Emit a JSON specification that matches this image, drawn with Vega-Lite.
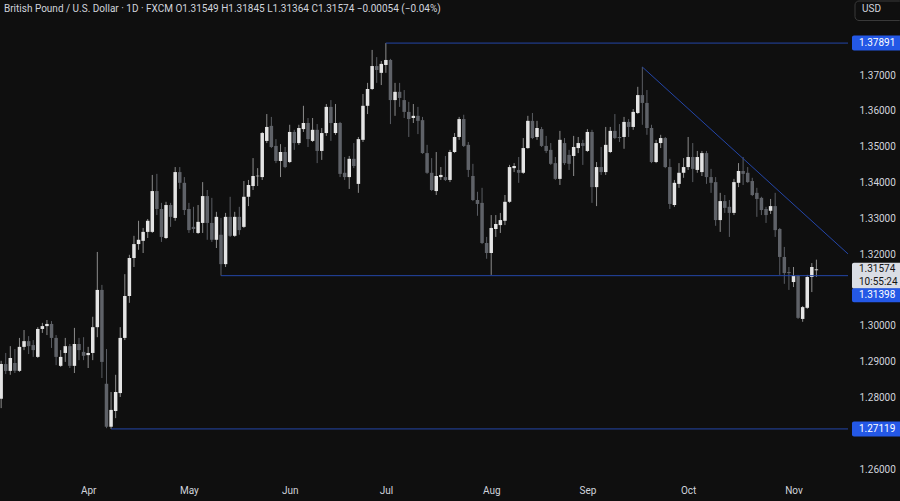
{
"$schema":"https://vega.github.io/schema/vega-lite/v6.json",
"width":848,"height":476,
"autosize":{"type":"none"},
"padding":{"left":0,"top":0,"right":52,"bottom":25},
"background":"#0f0f0f",
"config":{"view":{"stroke":null},"font":"Roboto","axis":{"labelFont":"Roboto","labelFontSize":10,"labelColor":"#d1d4dc","grid":false,"domain":false,"ticks":false,"labelOverlap":false}},
"title":{"text":"British Pound / U.S. Dollar · 1D · FXCM   O1.31549  H1.31845  L1.31364  C1.31574  −0.00054 (−0.04%)","anchor":"start","frame":"group","orient":"top","offset":-14,"dx":4,"fontSize":10,"font":"Roboto","fontWeight":"normal","color":"#d1d4dc"},
"datasets":{
"candles":[
{"d":"2025-03-05","i":-19,"o":1.2796,"h":1.2902,"l":1.2770,"c":1.2893},
{"d":"2025-03-06","i":-18,"o":1.2893,"h":1.2924,"l":1.2865,"c":1.2874},
{"d":"2025-03-07","i":-17,"o":1.2874,"h":1.2943,"l":1.2863,"c":1.2910},
{"d":"2025-03-10","i":-16,"o":1.2896,"h":1.2935,"l":1.2868,"c":1.2874},
{"d":"2025-03-11","i":-15,"o":1.2874,"h":1.2966,"l":1.2871,"c":1.2941},
{"d":"2025-03-12","i":-14,"o":1.2941,"h":1.2988,"l":1.2932,"c":1.2957},
{"d":"2025-03-13","i":-13,"o":1.2957,"h":1.2971,"l":1.2921,"c":1.2943},
{"d":"2025-03-14","i":-12,"o":1.2946,"h":1.2960,"l":1.2913,"c":1.2932},
{"d":"2025-03-17","i":-11,"o":1.2913,"h":1.2996,"l":1.2910,"c":1.2991},
{"d":"2025-03-18","i":-10,"o":1.2991,"h":1.3008,"l":1.2980,"c":1.2999},
{"d":"2025-03-19","i":-9,"o":1.2999,"h":1.3016,"l":1.2974,"c":1.3005},
{"d":"2025-03-20","i":-8,"o":1.3005,"h":1.3013,"l":1.2938,"c":1.2966},
{"d":"2025-03-21","i":-7,"o":1.2966,"h":1.2974,"l":1.2890,"c":1.2913},
{"d":"2025-03-24","i":-6,"o":1.2888,"h":1.2932,"l":1.2885,"c":1.2913},
{"d":"2025-03-25","i":-5,"o":1.2924,"h":1.2966,"l":1.2899,"c":1.2943},
{"d":"2025-03-26","i":-4,"o":1.2943,"h":1.2949,"l":1.2882,"c":1.2888},
{"d":"2025-03-27","i":-3,"o":1.2888,"h":1.2994,"l":1.2868,"c":1.2949},
{"d":"2025-03-28","i":-2,"o":1.2949,"h":1.2966,"l":1.2904,"c":1.2932},
{"d":"2025-03-31","i":-1,"o":1.2927,"h":1.2968,"l":1.2904,"c":1.2916},
{"d":"2025-04-01","i":0,"o":1.2918,"h":1.2941,"l":1.2882,"c":1.2924},
{"d":"2025-04-02","i":1,"o":1.2924,"h":1.3025,"l":1.2904,"c":1.2996},
{"d":"2025-04-03","i":2,"o":1.2996,"h":1.3206,"l":1.2968,"c":1.3100},
{"d":"2025-04-04","i":3,"o":1.3100,"h":1.3114,"l":1.2854,"c":1.2899},
{"d":"2025-04-07","i":4,"o":1.2838,"h":1.2935,"l":1.2714,"c":1.2718},
{"d":"2025-04-08","i":5,"o":1.2718,"h":1.2815,"l":1.27119,"c":1.2765},
{"d":"2025-04-09","i":6,"o":1.2762,"h":1.2863,"l":1.2742,"c":1.2815},
{"d":"2025-04-10","i":7,"o":1.2812,"h":1.2996,"l":1.2801,"c":1.2966},
{"d":"2025-04-11","i":8,"o":1.2966,"h":1.3144,"l":1.2960,"c":1.3083},
{"d":"2025-04-14","i":9,"o":1.3083,"h":1.3198,"l":1.3064,"c":1.3189},
{"d":"2025-04-15","i":10,"o":1.3189,"h":1.3251,"l":1.3164,"c":1.3228},
{"d":"2025-04-16","i":11,"o":1.3228,"h":1.3293,"l":1.3212,"c":1.3240},
{"d":"2025-04-17","i":12,"o":1.3237,"h":1.3273,"l":1.3203,"c":1.3262},
{"d":"2025-04-18","i":13,"o":1.3262,"h":1.3298,"l":1.3245,"c":1.3293},
{"d":"2025-04-21","i":14,"o":1.3262,"h":1.3421,"l":1.3259,"c":1.3376},
{"d":"2025-04-22","i":15,"o":1.3376,"h":1.3424,"l":1.3309,"c":1.3326},
{"d":"2025-04-23","i":16,"o":1.3326,"h":1.3343,"l":1.3234,"c":1.3248},
{"d":"2025-04-24","i":17,"o":1.3245,"h":1.3346,"l":1.3242,"c":1.3337},
{"d":"2025-04-25","i":18,"o":1.3337,"h":1.3343,"l":1.3276,"c":1.3304},
{"d":"2025-04-28","i":19,"o":1.3301,"h":1.3443,"l":1.3293,"c":1.3429},
{"d":"2025-04-29","i":20,"o":1.3429,"h":1.3443,"l":1.3382,"c":1.3399},
{"d":"2025-04-30","i":21,"o":1.3399,"h":1.3415,"l":1.3309,"c":1.3323},
{"d":"2025-05-01","i":22,"o":1.3326,"h":1.3343,"l":1.3259,"c":1.3267},
{"d":"2025-05-02","i":23,"o":1.3276,"h":1.3332,"l":1.3259,"c":1.3270},
{"d":"2025-05-05","i":24,"o":1.3259,"h":1.3337,"l":1.3256,"c":1.3290},
{"d":"2025-05-06","i":25,"o":1.3287,"h":1.3401,"l":1.3259,"c":1.3362},
{"d":"2025-05-07","i":26,"o":1.3362,"h":1.3379,"l":1.3240,"c":1.3287},
{"d":"2025-05-08","i":27,"o":1.3287,"h":1.3357,"l":1.3234,"c":1.3240},
{"d":"2025-05-09","i":28,"o":1.3240,"h":1.3318,"l":1.3217,"c":1.3304},
{"d":"2025-05-12","i":29,"o":1.3254,"h":1.3301,"l":1.31398,"c":1.3172},
{"d":"2025-05-13","i":30,"o":1.3172,"h":1.3315,"l":1.3164,"c":1.3304},
{"d":"2025-05-14","i":31,"o":1.3304,"h":1.3360,"l":1.3248,"c":1.3251},
{"d":"2025-05-15","i":32,"o":1.3251,"h":1.3318,"l":1.3248,"c":1.3304},
{"d":"2025-05-16","i":33,"o":1.3304,"h":1.3332,"l":1.3254,"c":1.3267},
{"d":"2025-05-19","i":34,"o":1.3276,"h":1.3404,"l":1.3273,"c":1.3360},
{"d":"2025-05-20","i":35,"o":1.3360,"h":1.3407,"l":1.3334,"c":1.3393},
{"d":"2025-05-21","i":36,"o":1.3390,"h":1.3468,"l":1.3379,"c":1.3418},
{"d":"2025-05-22","i":37,"o":1.3417,"h":1.3440,"l":1.3390,"c":1.3419},
{"d":"2025-05-23","i":38,"o":1.3415,"h":1.3541,"l":1.3407,"c":1.3538},
{"d":"2025-05-26","i":39,"o":1.3516,"h":1.3591,"l":1.3510,"c":1.3555},
{"d":"2025-05-27","i":40,"o":1.3558,"h":1.3583,"l":1.3496,"c":1.3499},
{"d":"2025-05-28","i":41,"o":1.3502,"h":1.3521,"l":1.3454,"c":1.3460},
{"d":"2025-05-29","i":42,"o":1.3460,"h":1.3507,"l":1.3415,"c":1.3485},
{"d":"2025-05-30","i":43,"o":1.3485,"h":1.3499,"l":1.3440,"c":1.3443},
{"d":"2025-06-02","i":44,"o":1.3457,"h":1.3561,"l":1.3454,"c":1.3541},
{"d":"2025-06-03","i":45,"o":1.3541,"h":1.3547,"l":1.3491,"c":1.3510},
{"d":"2025-06-04","i":46,"o":1.3510,"h":1.3561,"l":1.3505,"c":1.3552},
{"d":"2025-06-05","i":47,"o":1.3549,"h":1.3614,"l":1.3541,"c":1.3566},
{"d":"2025-06-06","i":48,"o":1.3566,"h":1.3580,"l":1.3499,"c":1.3521},
{"d":"2025-06-09","i":49,"o":1.3516,"h":1.3580,"l":1.3513,"c":1.3547},
{"d":"2025-06-10","i":50,"o":1.3547,"h":1.3563,"l":1.3454,"c":1.3488},
{"d":"2025-06-11","i":51,"o":1.3488,"h":1.3552,"l":1.3463,"c":1.3538},
{"d":"2025-06-12","i":52,"o":1.3538,"h":1.3619,"l":1.3530,"c":1.3611},
{"d":"2025-06-13","i":53,"o":1.3611,"h":1.3630,"l":1.3516,"c":1.3566},
{"d":"2025-06-16","i":54,"o":1.3538,"h":1.3619,"l":1.3533,"c":1.3566},
{"d":"2025-06-17","i":55,"o":1.3566,"h":1.3569,"l":1.3415,"c":1.3424},
{"d":"2025-06-18","i":56,"o":1.3427,"h":1.3471,"l":1.3407,"c":1.3415},
{"d":"2025-06-19","i":57,"o":1.3415,"h":1.3474,"l":1.3382,"c":1.3466},
{"d":"2025-06-20","i":58,"o":1.3466,"h":1.3510,"l":1.3440,"c":1.3446},
{"d":"2025-06-23","i":59,"o":1.3396,"h":1.3527,"l":1.3371,"c":1.3521},
{"d":"2025-06-24","i":60,"o":1.3519,"h":1.3647,"l":1.3513,"c":1.3614},
{"d":"2025-06-25","i":61,"o":1.3614,"h":1.3678,"l":1.3591,"c":1.3661},
{"d":"2025-06-26","i":62,"o":1.3661,"h":1.3770,"l":1.3658,"c":1.3725},
{"d":"2025-06-27","i":63,"o":1.3725,"h":1.3750,"l":1.3678,"c":1.3714},
{"d":"2025-06-30","i":64,"o":1.3706,"h":1.3739,"l":1.3672,"c":1.3731},
{"d":"2025-07-01","i":65,"o":1.3728,"h":1.37891,"l":1.3706,"c":1.3742},
{"d":"2025-07-02","i":66,"o":1.3742,"h":1.3745,"l":1.3563,"c":1.3630},
{"d":"2025-07-03","i":67,"o":1.3630,"h":1.3678,"l":1.3586,"c":1.3653},
{"d":"2025-07-04","i":68,"o":1.3653,"h":1.3678,"l":1.3611,"c":1.3636},
{"d":"2025-07-07","i":69,"o":1.3630,"h":1.3658,"l":1.3580,"c":1.3597},
{"d":"2025-07-08","i":70,"o":1.3597,"h":1.3625,"l":1.3527,"c":1.3577},
{"d":"2025-07-09","i":71,"o":1.3580,"h":1.3619,"l":1.3566,"c":1.3586},
{"d":"2025-07-10","i":72,"o":1.3586,"h":1.3611,"l":1.3535,"c":1.3572},
{"d":"2025-07-11","i":73,"o":1.3574,"h":1.3583,"l":1.3480,"c":1.3482},
{"d":"2025-07-14","i":74,"o":1.3482,"h":1.3505,"l":1.3424,"c":1.3427},
{"d":"2025-07-15","i":75,"o":1.3427,"h":1.3468,"l":1.3376,"c":1.3379},
{"d":"2025-07-16","i":76,"o":1.3376,"h":1.3485,"l":1.3365,"c":1.3418},
{"d":"2025-07-17","i":77,"o":1.3415,"h":1.3443,"l":1.3407,"c":1.3421},
{"d":"2025-07-18","i":78,"o":1.3415,"h":1.3474,"l":1.3404,"c":1.3407},
{"d":"2025-07-21","i":79,"o":1.3407,"h":1.3491,"l":1.3401,"c":1.3485},
{"d":"2025-07-22","i":80,"o":1.3485,"h":1.3538,"l":1.3482,"c":1.3527},
{"d":"2025-07-23","i":81,"o":1.3527,"h":1.3583,"l":1.3519,"c":1.3577},
{"d":"2025-07-24","i":82,"o":1.3577,"h":1.3589,"l":1.3499,"c":1.3502},
{"d":"2025-07-25","i":83,"o":1.3505,"h":1.3513,"l":1.3415,"c":1.3435},
{"d":"2025-07-28","i":84,"o":1.3418,"h":1.3452,"l":1.3348,"c":1.3351},
{"d":"2025-07-29","i":85,"o":1.3351,"h":1.3374,"l":1.3307,"c":1.3340},
{"d":"2025-07-30","i":86,"o":1.3343,"h":1.3385,"l":1.3228,"c":1.3231},
{"d":"2025-07-31","i":87,"o":1.3231,"h":1.3248,"l":1.3187,"c":1.3203},
{"d":"2025-08-01","i":88,"o":1.3203,"h":1.3309,"l":1.3142,"c":1.3273},
{"d":"2025-08-04","i":89,"o":1.3270,"h":1.3309,"l":1.3248,"c":1.3284},
{"d":"2025-08-05","i":90,"o":1.3281,"h":1.3315,"l":1.3259,"c":1.3295},
{"d":"2025-08-06","i":91,"o":1.3293,"h":1.3365,"l":1.3281,"c":1.3346},
{"d":"2025-08-07","i":92,"o":1.3346,"h":1.3449,"l":1.3343,"c":1.3443},
{"d":"2025-08-08","i":93,"o":1.3440,"h":1.3454,"l":1.3429,"c":1.3446},
{"d":"2025-08-11","i":94,"o":1.3435,"h":1.3471,"l":1.3399,"c":1.3427},
{"d":"2025-08-12","i":95,"o":1.3427,"h":1.3524,"l":1.3424,"c":1.3496},
{"d":"2025-08-13","i":96,"o":1.3496,"h":1.3586,"l":1.3494,"c":1.3572},
{"d":"2025-08-14","i":97,"o":1.3572,"h":1.3594,"l":1.3521,"c":1.3524},
{"d":"2025-08-15","i":98,"o":1.3527,"h":1.3572,"l":1.3519,"c":1.3552},
{"d":"2025-08-18","i":99,"o":1.3549,"h":1.3555,"l":1.3499,"c":1.3502},
{"d":"2025-08-19","i":100,"o":1.3502,"h":1.3530,"l":1.3482,"c":1.3488},
{"d":"2025-08-20","i":101,"o":1.3491,"h":1.3510,"l":1.3449,"c":1.3452},
{"d":"2025-08-21","i":102,"o":1.3454,"h":1.3471,"l":1.3407,"c":1.3410},
{"d":"2025-08-22","i":103,"o":1.3410,"h":1.3544,"l":1.3393,"c":1.3519},
{"d":"2025-08-25","i":104,"o":1.3510,"h":1.3524,"l":1.3449,"c":1.3454},
{"d":"2025-08-26","i":105,"o":1.3477,"h":1.3491,"l":1.3435,"c":1.3452},
{"d":"2025-08-27","i":106,"o":1.3474,"h":1.3530,"l":1.3418,"c":1.3499},
{"d":"2025-08-28","i":107,"o":1.3496,"h":1.3527,"l":1.3482,"c":1.3510},
{"d":"2025-08-29","i":108,"o":1.3510,"h":1.3519,"l":1.3449,"c":1.3502},
{"d":"2025-09-01","i":109,"o":1.3488,"h":1.3549,"l":1.3485,"c":1.3541},
{"d":"2025-09-02","i":110,"o":1.3541,"h":1.3547,"l":1.3343,"c":1.3387},
{"d":"2025-09-03","i":111,"o":1.3387,"h":1.3457,"l":1.3334,"c":1.3443},
{"d":"2025-09-04","i":112,"o":1.3443,"h":1.3499,"l":1.3421,"c":1.3429},
{"d":"2025-09-05","i":113,"o":1.3429,"h":1.3555,"l":1.3421,"c":1.3505},
{"d":"2025-09-08","i":114,"o":1.3485,"h":1.3555,"l":1.3482,"c":1.3544},
{"d":"2025-09-09","i":115,"o":1.3544,"h":1.3591,"l":1.3521,"c":1.3524},
{"d":"2025-09-10","i":116,"o":1.3527,"h":1.3563,"l":1.3513,"c":1.3524},
{"d":"2025-09-11","i":117,"o":1.3527,"h":1.3583,"l":1.3494,"c":1.3569},
{"d":"2025-09-12","i":118,"o":1.3569,"h":1.3577,"l":1.3527,"c":1.3555},
{"d":"2025-09-15","i":119,"o":1.3555,"h":1.3605,"l":1.3547,"c":1.3597},
{"d":"2025-09-16","i":120,"o":1.3594,"h":1.3667,"l":1.3591,"c":1.3644},
{"d":"2025-09-17","i":121,"o":1.3644,"h":1.37223,"l":1.3561,"c":1.3622},
{"d":"2025-09-18","i":122,"o":1.3622,"h":1.3658,"l":1.3533,"c":1.3552},
{"d":"2025-09-19","i":123,"o":1.3552,"h":1.3561,"l":1.3454,"c":1.3457},
{"d":"2025-09-22","i":124,"o":1.3457,"h":1.3519,"l":1.3454,"c":1.3510},
{"d":"2025-09-23","i":125,"o":1.3510,"h":1.3533,"l":1.3496,"c":1.3524},
{"d":"2025-09-24","i":126,"o":1.3524,"h":1.3527,"l":1.3440,"c":1.3443},
{"d":"2025-09-25","i":127,"o":1.3443,"h":1.3466,"l":1.3326,"c":1.3340},
{"d":"2025-09-26","i":128,"o":1.3337,"h":1.3407,"l":1.3332,"c":1.3399},
{"d":"2025-09-29","i":129,"o":1.3396,"h":1.3454,"l":1.3385,"c":1.3427},
{"d":"2025-09-30","i":130,"o":1.3427,"h":1.3468,"l":1.3413,"c":1.3443},
{"d":"2025-10-01","i":131,"o":1.3443,"h":1.3527,"l":1.3435,"c":1.3471},
{"d":"2025-10-02","i":132,"o":1.3471,"h":1.3510,"l":1.3401,"c":1.3438},
{"d":"2025-10-03","i":133,"o":1.3435,"h":1.3488,"l":1.3427,"c":1.3471},
{"d":"2025-10-06","i":134,"o":1.3429,"h":1.3488,"l":1.3418,"c":1.3482},
{"d":"2025-10-07","i":135,"o":1.3482,"h":1.3488,"l":1.3396,"c":1.3415},
{"d":"2025-10-08","i":136,"o":1.3415,"h":1.3438,"l":1.3371,"c":1.3399},
{"d":"2025-10-09","i":137,"o":1.3401,"h":1.3415,"l":1.3279,"c":1.3295},
{"d":"2025-10-10","i":138,"o":1.3295,"h":1.3371,"l":1.3262,"c":1.3348},
{"d":"2025-10-13","i":139,"o":1.3348,"h":1.3365,"l":1.3315,"c":1.3329},
{"d":"2025-10-14","i":140,"o":1.3332,"h":1.3351,"l":1.3248,"c":1.3315},
{"d":"2025-10-15","i":141,"o":1.3315,"h":1.3410,"l":1.3309,"c":1.3401},
{"d":"2025-10-16","i":142,"o":1.3399,"h":1.3454,"l":1.3387,"c":1.3432},
{"d":"2025-10-17","i":143,"o":1.3432,"h":1.3471,"l":1.3393,"c":1.3424},
{"d":"2025-10-20","i":144,"o":1.3427,"h":1.3443,"l":1.3399,"c":1.3401},
{"d":"2025-10-21","i":145,"o":1.3404,"h":1.3413,"l":1.3362,"c":1.3365},
{"d":"2025-10-22","i":146,"o":1.3371,"h":1.3385,"l":1.3304,"c":1.3354},
{"d":"2025-10-23","i":147,"o":1.3357,"h":1.3360,"l":1.3309,"c":1.3323},
{"d":"2025-10-24","i":148,"o":1.3326,"h":1.3332,"l":1.3287,"c":1.3309},
{"d":"2025-10-27","i":149,"o":1.3321,"h":1.3354,"l":1.3312,"c":1.3334},
{"d":"2025-10-28","i":150,"o":1.3334,"h":1.3371,"l":1.3248,"c":1.3267},
{"d":"2025-10-29","i":151,"o":1.3270,"h":1.3273,"l":1.3142,"c":1.3192},
{"d":"2025-10-30","i":152,"o":1.3192,"h":1.3220,"l":1.3117,"c":1.3147},
{"d":"2025-10-31","i":153,"o":1.3150,"h":1.3164,"l":1.3100,"c":1.3147},
{"d":"2025-11-03","i":154,"o":1.3122,"h":1.3164,"l":1.3108,"c":1.3139},
{"d":"2025-11-04","i":155,"o":1.3139,"h":1.3142,"l":1.3019,"c":1.3022},
{"d":"2025-11-05","i":156,"o":1.3019,"h":1.3055,"l":1.3011,"c":1.3052},
{"d":"2025-11-06","i":157,"o":1.3050,"h":1.3142,"l":1.3047,"c":1.3136},
{"d":"2025-11-07","i":158,"o":1.3136,"h":1.3175,"l":1.3094,"c":1.3164},
{"d":"2025-11-10","i":159,"o":1.31549,"h":1.31845,"l":1.31364,"c":1.31574}
],
"levels":[{"from":5,"p":1.27119,"t":"1.27119"},{"from":29,"p":1.31398,"t":"1.31398"},{"from":65,"p":1.37891,"t":"1.37891"}],
"trend":[{"i1":121,"p1":1.37223,"i2":167,"p2":1.31878}],
"last":[{"p":1.31574,"t":"1.31574","cd":"10:55:24"}]
},
"layer":[
{"data":{"name":"candles"},"mark":{"type":"rule","strokeWidth":1},
 "encoding":{
  "x":{"field":"i","type":"quantitative","title":null,"scale":{"domain":[-19.25,165.9],"nice":false,"zero":false,"padding":0},
       "axis":{"values":[0,22,44,65,88,109,131,154],"labelPadding":9,"labelExpr":"datum.value==0?'Apr':datum.value==22?'May':datum.value==44?'Jun':datum.value==65?'Jul':datum.value==88?'Aug':datum.value==109?'Sep':datum.value==131?'Oct':'Nov'"}},
  "y":{"field":"l","type":"quantitative","title":null,"scale":{"domain":[1.25805,1.39094],"nice":false,"zero":false,"padding":0},
       "axis":{"orient":"right","values":[1.26,1.28,1.29,1.30,1.32,1.33,1.34,1.35,1.36,1.37],"format":".5f","labelPadding":11}},
  "y2":{"field":"h"},
  "color":{"condition":{"test":"datum.c >= datum.o","value":"#8c8c8c"},"value":"#5a5d63"}}},
{"data":{"name":"candles"},"mark":{"type":"bar","orient":"vertical","size":3.5},
 "encoding":{
  "x":{"field":"i","type":"quantitative","title":null},
  "y":{"field":"o","type":"quantitative","title":null},
  "y2":{"field":"c"},
  "color":{"condition":{"test":"datum.c >= datum.o","value":"#e4e4e4"},"value":"#5f6268"}}},
{"data":{"name":"levels"},"mark":{"type":"rule","clip":true,"strokeWidth":1,"color":"#2446a8"},
 "encoding":{
  "x":{"field":"from","type":"quantitative","title":null},
  "x2":{"datum":167},
  "y":{"field":"p","type":"quantitative","title":null}}},
{"data":{"name":"trend"},"mark":{"type":"rule","clip":true,"strokeWidth":1,"color":"#2446a8"},
 "encoding":{
  "x":{"field":"i1","type":"quantitative","title":null},
  "x2":{"field":"i2"},
  "y":{"field":"p1","type":"quantitative","title":null},
  "y2":{"field":"p2"}}},
{"data":{"name":"levels"},"transform":[{"filter":"datum.from != 29"}],"mark":{"type":"bar","orient":"horizontal","size":15,"color":"#2458e6","cornerRadius":2,"clip":false},
 "encoding":{
  "x":{"datum":166.77,"type":"quantitative","title":null},
  "x2":{"datum":178},
  "y":{"field":"p","type":"quantitative","title":null}}},
{"data":{"name":"levels"},"transform":[{"filter":"datum.from != 29"}],"mark":{"type":"text","align":"left","baseline":"middle","fontSize":10,"font":"Roboto","color":"#ffffff","clip":false},
 "encoding":{
  "x":{"datum":168.3,"type":"quantitative","title":null},
  "y":{"field":"p","type":"quantitative","title":null},
  "text":{"field":"t"}}},
{"data":{"name":"last"},"mark":{"type":"bar","orient":"horizontal","size":26,"yOffset":6.5,"color":"#dadde4","cornerRadius":2,"clip":false},
 "encoding":{
  "x":{"datum":166.77,"type":"quantitative","title":null},
  "x2":{"datum":178},
  "y":{"field":"p","type":"quantitative","title":null}}},
{"data":{"name":"last"},"mark":{"type":"text","align":"left","baseline":"middle","fontSize":10,"font":"Roboto","color":"#131313","clip":false},
 "encoding":{
  "x":{"datum":168.3,"type":"quantitative","title":null},
  "y":{"field":"p","type":"quantitative","title":null},
  "text":{"field":"t"}}},
{"data":{"name":"last"},"mark":{"type":"text","align":"left","baseline":"middle","fontSize":10,"font":"Roboto","color":"#131313","yOffset":13,"clip":false},
 "encoding":{
  "x":{"datum":168.3,"type":"quantitative","title":null},
  "y":{"field":"p","type":"quantitative","title":null},
  "text":{"field":"cd"}}},
{"data":{"name":"levels"},"transform":[{"filter":"datum.from == 29"}],"mark":{"type":"bar","orient":"horizontal","size":14,"yOffset":19.5,"color":"#2458e6","cornerRadius":2,"clip":false},
 "encoding":{
  "x":{"datum":166.77,"type":"quantitative","title":null},
  "x2":{"datum":178},
  "y":{"field":"p","type":"quantitative","title":null}}},
{"data":{"name":"levels"},"transform":[{"filter":"datum.from == 29"}],"mark":{"type":"text","align":"left","baseline":"middle","fontSize":10,"font":"Roboto","color":"#ffffff","yOffset":19.5,"clip":false},
 "encoding":{
  "x":{"datum":168.3,"type":"quantitative","title":null},
  "y":{"field":"p","type":"quantitative","title":null},
  "text":{"field":"t"}}},
{"data":{"values":[{"t":"USD"}]},"mark":{"type":"rect","fill":"#0f0f0f","stroke":"#3a3a3a","strokeWidth":1,"cornerRadius":4,"clip":false},
 "encoding":{
  "x":{"datum":167.43,"type":"quantitative","title":null},
  "x2":{"datum":178},
  "y":{"datum":1.39066,"type":"quantitative","title":null},
  "y2":{"datum":1.38522}}},
{"data":{"values":[{"t":"USD"}]},"mark":{"type":"text","align":"left","baseline":"middle","fontSize":10,"font":"Roboto","color":"#d1d4dc","clip":false},
 "encoding":{
  "x":{"datum":168.95,"type":"quantitative","title":null},
  "y":{"datum":1.38829,"type":"quantitative","title":null},
  "text":{"field":"t"}}}
]
}
